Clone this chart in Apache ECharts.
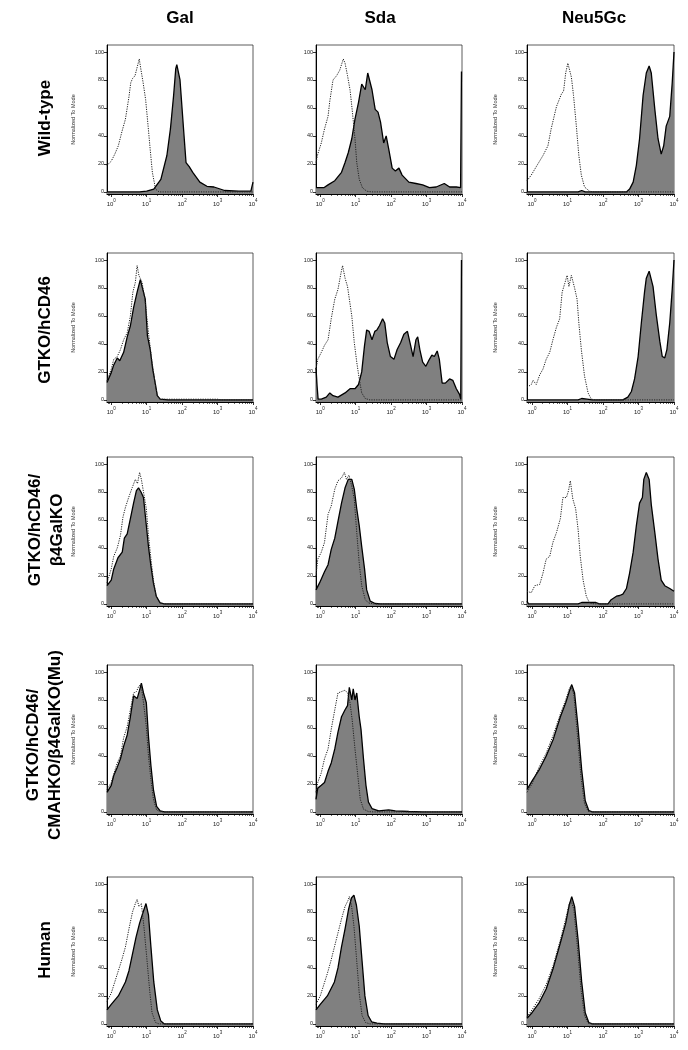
<!DOCTYPE html>
<html>
<head>
<meta charset="utf-8">
<script src="https://cdn.jsdelivr.net/npm/echarts@6/dist/echarts.min.js"></script>
<style>
html,body{margin:0;padding:0;background:#fff;}
#c{width:688px;height:1050px;}
</style>
</head>
<body>
<div id="c"></div>
<script>
// ---------- labels / ticks ----------
const columnTitles = ['Gal', 'Sda', 'Neu5Gc'];
const rowLabels = ['Wild-type', 'GTKO/hCD46', 'GTKO/hCD46/\nβ4GalKO', 'GTKO/hCD46/\nCMAHKO/β4GalKO(Mu)', 'Human'];
const yTickValues = [0, 20, 40, 60, 80, 100];
const xDecadeExponents = [0, 1, 2, 3, 4];
const yAxisTitle = 'Normalized To Mode';

// ---------- data: [log10(fluorescence), % of mode] ----------
// Row 1: Wild-type
const galWT_ctrl = [[-0.12,19],[0,22],[0.1,27],[0.2,33],[0.3,43],[0.4,52],[0.45,60],[0.5,68],[0.55,78],[0.6,81],[0.67,83],[0.72,88],[0.79,95],[0.84,87],[0.9,78],[0.97,66],[1.04,47],[1.1,30],[1.16,14],[1.25,2],[1.35,0],[4,0]];
const galWT_samp = [[-0.12,0],[0.8,0],[1.0,0.5],[1.2,2],[1.4,9],[1.57,26],[1.67,45],[1.76,69],[1.82,88],[1.85,91],[1.9,91],[1.94,80],[2.04,45],[2.11,21],[2.2,18],[2.3,14],[2.5,7],[2.7,4],[2.9,3.5],[3.2,1],[3.6,0.5],[3.94,0.5],[4.0,7]];
const sdaWT_ctrl = [[-0.12,21],[-0.07,27],[0.03,35],[0.12,45],[0.22,54],[0.27,65],[0.36,80],[0.46,83],[0.55,87],[0.65,95],[0.7,92],[0.77,83],[0.84,73],[0.9,59],[0.98,38],[1.03,21],[1.1,9],[1.19,3],[1.31,0.5],[1.45,0],[4,0]];
const sdaWT_samp = [[-0.12,3],[0.1,3],[0.22,5],[0.41,8],[0.6,14],[0.7,21],[0.79,28],[0.89,38],[0.98,52],[1.08,64],[1.17,77],[1.22,78],[1.27,73],[1.34,85],[1.38,84],[1.46,73],[1.55,59],[1.63,57],[1.7,50],[1.79,35],[1.86,40],[1.93,31],[2.03,17],[2.12,15],[2.22,17],[2.31,12],[2.5,7],[2.7,6],[2.89,5],[3.08,3],[3.27,3.5],[3.5,6],[3.65,3.5],[3.84,3.5],[3.96,3],[3.985,86],[4.0,86]];
const neuWT_ctrl = [[-0.14,8],[-0.02,12],[0.12,18],[0.31,26],[0.45,33],[0.54,45],[0.69,61],[0.83,70],[0.89,72],[0.95,85],[1.01,92],[1.06,91],[1.11,82],[1.17,69],[1.25,47],[1.32,26],[1.39,12],[1.48,3.5],[1.62,0.5],[1.75,0],[4,0]];
const neuWT_samp = [[-0.14,0],[1.3,0],[1.4,1],[1.5,0],[2.66,0],[2.75,2],[2.85,7],[2.94,19],[3.03,38],[3.13,69],[3.22,85],[3.3,90],[3.36,85],[3.46,59],[3.55,38],[3.64,27],[3.71,33],[3.78,47],[3.88,54],[3.95,78],[4.0,100]];
// Row 2: GTKO/hCD46
const galKO_ctrl = [[-0.12,13.5],[0,22],[0.07,29],[0.17,31],[0.26,36],[0.35,43],[0.45,48],[0.54,60],[0.61,77],[0.68,84],[0.73,96],[0.78,89],[0.87,84],[0.96,70],[1.05,48],[1.14,29],[1.24,12],[1.3,3],[1.38,0.5],[3.0,0.5],[3.1,0],[4,0]];
const galKO_samp = [[-0.12,12.4],[0,19.5],[0.07,25],[0.17,30],[0.24,28],[0.35,34],[0.45,45],[0.54,53],[0.63,66],[0.73,77],[0.82,86],[0.87,81],[0.96,72],[1.02,46],[1.1,36],[1.17,22],[1.24,12],[1.3,3],[1.38,0.5],[1.6,0],[4,0]];
const sdaKO_ctrl = [[-0.12,22],[-0.07,29],[0.03,34],[0.12,39],[0.22,43],[0.31,58],[0.41,72],[0.5,79],[0.58,90],[0.63,96],[0.7,87],[0.77,81],[0.89,60],[0.96,41],[1.03,27],[1.1,15],[1.17,5],[1.27,1],[1.4,0],[4,0]];
const sdaKO_samp = [[-0.12,23],[-0.09,10],[-0.06,0.5],[0.03,0.5],[0.17,2],[0.27,5],[0.36,3],[0.5,2],[0.7,5],[0.84,8],[0.98,8],[1.08,11],[1.17,20],[1.25,39],[1.31,50],[1.38,49],[1.46,43],[1.54,49],[1.6,50],[1.67,53],[1.76,58],[1.82,55],[1.89,41],[1.98,31],[2.08,29],[2.17,36],[2.27,41],[2.36,47],[2.46,49],[2.55,39],[2.62,31],[2.7,43],[2.75,45],[2.81,36],[2.89,27],[2.98,24],[3.08,29],[3.15,32],[3.22,31],[3.3,35],[3.36,29],[3.44,12],[3.53,12],[3.65,15],[3.74,14],[3.84,8],[3.93,4],[3.965,0.5],[3.985,100],[4.0,100]];
const neuKO_ctrl = [[-0.14,9],[-0.02,11],[0.03,14],[0.12,11],[0.22,18],[0.31,22],[0.4,29],[0.5,34],[0.59,43],[0.69,52],[0.78,58],[0.85,77],[0.92,83],[0.99,89],[1.04,81],[1.11,89],[1.15,90],[1.2,80],[1.27,72],[1.32,55],[1.39,36],[1.48,17],[1.58,5],[1.67,0.5],[1.8,0],[4,0]];
const neuKO_samp = [[-0.14,0],[1.3,0],[1.4,1],[1.55,0.5],[1.7,0],[2.56,0],[2.7,2],[2.8,6],[2.89,15],[2.99,31],[3.08,55],[3.17,77],[3.22,87],[3.3,92],[3.33,93],[3.41,81],[3.5,61],[3.6,42],[3.67,31],[3.74,30],[3.8,36],[3.88,55],[3.95,79],[4.0,100]];
// Row 3: GTKO/hCD46/β4GalKO
const galB4_ctrl = [[-0.12,15],[0,25],[0.07,34],[0.17,40],[0.26,49],[0.33,62],[0.4,69],[0.49,76],[0.59,83],[0.68,89],[0.74,86],[0.8,94],[0.85,89],[0.91,80],[0.99,68],[1.05,49],[1.12,32],[1.19,17],[1.27,5.5],[1.38,0.7],[1.5,0],[4,0]];
const galB4_samp = [[-0.12,13],[0,17],[0.07,25],[0.19,33],[0.31,37],[0.37,47],[0.45,50],[0.54,61],[0.63,72],[0.71,81],[0.77,83],[0.84,80],[0.91,76],[0.99,56],[1.05,41],[1.12,27],[1.19,15],[1.27,5.5],[1.38,0.7],[1.5,0],[4,0]];
const sdaB4_ctrl = [[-0.12,20],[-0.07,32],[0.03,37],[0.12,44],[0.22,64],[0.31,70],[0.41,82],[0.5,88],[0.6,90],[0.68,94],[0.74,89],[0.81,92],[0.89,84],[0.96,75],[1.03,51],[1.1,29],[1.17,13],[1.27,3],[1.36,0.7],[1.5,0],[4,0]];
const sdaB4_samp = [[-0.12,10],[-0.02,15],[0.12,23],[0.22,28],[0.31,39],[0.41,47],[0.5,59],[0.6,72],[0.7,83],[0.79,89],[0.84,90],[0.89,89],[0.96,82],[1.03,68],[1.1,56],[1.17,41],[1.25,25],[1.31,10],[1.41,2],[1.55,0.3],[1.7,0],[4,0]];
const neuB4_ctrl = [[-0.14,9],[-0.02,8],[0.08,13],[0.22,14],[0.31,22],[0.4,32],[0.5,34],[0.59,44],[0.69,51],[0.8,61],[0.87,76],[0.97,76],[1.03,81],[1.08,88],[1.15,75],[1.23,68],[1.3,53],[1.36,34],[1.44,17],[1.53,5.5],[1.62,0.7],[1.75,0],[4,0]];
const neuB4_samp = [[-0.14,2],[-0.1,0],[1.3,0],[1.4,1],[1.8,1],[1.9,0],[2.14,0],[2.23,3],[2.38,5.5],[2.47,6],[2.56,7],[2.66,11],[2.75,22],[2.85,37],[2.94,56],[3.03,72],[3.11,76],[3.15,89],[3.22,94],[3.3,89],[3.36,71],[3.46,51],[3.55,32],[3.64,17],[3.74,13],[3.88,11],[4.0,9]];
// Row 4: GTKO/hCD46/CMAHKO/β4GalKO(Mu)
const galMu_ctrl = [[-0.12,16],[0,21],[0.07,27],[0.17,35],[0.26,40],[0.35,53],[0.45,61],[0.54,73],[0.63,85],[0.71,86],[0.78,90],[0.84,91],[0.91,78],[0.99,61],[1.05,40],[1.12,23],[1.19,9],[1.28,1.4],[1.38,0.2],[1.5,0],[4,0]];
const galMu_samp = [[-0.12,14],[0,19],[0.07,26],[0.17,32],[0.26,38],[0.35,47],[0.45,55],[0.54,68],[0.63,83],[0.73,81],[0.8,87],[0.85,92],[0.91,85],[0.99,78],[1.05,54],[1.12,33],[1.19,16],[1.28,4],[1.38,0.7],[1.5,0],[4,0]];
const sdaMu_ctrl = [[-0.12,14],[-0.07,21],[0.03,28],[0.12,38],[0.22,45],[0.31,59],[0.41,73],[0.5,85],[0.6,86],[0.7,87],[0.77,85],[0.84,78],[0.9,66],[0.98,45],[1.06,26],[1.13,9],[1.22,2],[1.36,0.2],[1.5,0],[4,0]];
const sdaMu_samp = [[-0.12,9],[-0.07,17],[0.03,19],[0.12,21],[0.22,29],[0.31,35],[0.41,45],[0.5,57],[0.6,68],[0.7,73],[0.77,76],[0.82,89],[0.89,80],[0.93,88],[0.98,80],[1.03,85],[1.1,68],[1.15,59],[1.22,38],[1.29,19],[1.36,7],[1.46,2.4],[1.65,0.7],[1.93,1.4],[2.12,0.7],[2.5,0.3],[2.89,0],[4,0]];
const neuMu_ctrl = [[-0.14,14],[0,20],[0.2,32],[0.4,42],[0.6,55],[0.8,70],[0.95,80],[1.05,88],[1.1,90],[1.18,84],[1.28,55],[1.38,25],[1.48,6],[1.58,0.5],[1.7,0],[4,0]];
const neuMu_samp = [[-0.14,16],[0,22],[0.2,30],[0.4,40],[0.6,52],[0.8,68],[0.95,78],[1.05,86],[1.12,91],[1.2,85],[1.3,60],[1.4,30],[1.5,8],[1.6,1],[1.7,0],[4,0]];
// Row 5: Human
const galHu_ctrl = [[-0.12,16],[0,22],[0.1,30],[0.2,38],[0.3,46],[0.4,55],[0.5,68],[0.6,80],[0.68,86],[0.73,89],[0.78,84],[0.85,86],[0.92,70],[1.0,48],[1.08,25],[1.15,8],[1.25,1],[1.35,0],[4,0]];
const galHu_samp = [[-0.12,10],[0,14],[0.2,20],[0.4,30],[0.5,38],[0.6,50],[0.7,62],[0.8,72],[0.9,80],[0.98,86],[1.05,78],[1.12,55],[1.2,30],[1.3,10],[1.4,2],[1.5,0],[4,0]];
const sdaHu_ctrl = [[-0.12,14],[0,20],[0.1,28],[0.2,36],[0.3,45],[0.4,55],[0.5,65],[0.6,75],[0.7,84],[0.78,88],[0.82,91],[0.88,85],[0.95,70],[1.02,48],[1.1,22],[1.18,6],[1.28,1],[1.4,0],[4,0]];
const sdaHu_samp = [[-0.12,10],[0,14],[0.2,20],[0.4,30],[0.5,40],[0.6,55],[0.7,68],[0.8,82],[0.88,90],[0.95,92],[1.02,85],[1.1,70],[1.18,45],[1.26,20],[1.35,6],[1.45,1.5],[1.6,0.5],[1.8,0],[4,0]];
const neuHu_ctrl = [[-0.14,5],[0,10],[0.2,18],[0.4,28],[0.6,42],[0.8,60],[0.95,75],[1.05,86],[1.1,88],[1.18,82],[1.28,55],[1.38,25],[1.48,6],[1.58,0.5],[1.7,0],[4,0]];
const neuHu_samp = [[-0.14,4],[0,8],[0.2,15],[0.4,25],[0.6,40],[0.8,58],[0.95,72],[1.05,85],[1.12,91],[1.2,84],[1.3,60],[1.4,30],[1.5,8],[1.6,1],[1.7,0],[4,0]];

const panelData = [
  [[galWT_ctrl, galWT_samp], [sdaWT_ctrl, sdaWT_samp], [neuWT_ctrl, neuWT_samp]],
  [[galKO_ctrl, galKO_samp], [sdaKO_ctrl, sdaKO_samp], [neuKO_ctrl, neuKO_samp]],
  [[galB4_ctrl, galB4_samp], [sdaB4_ctrl, sdaB4_samp], [neuB4_ctrl, neuB4_samp]],
  [[galMu_ctrl, galMu_samp], [sdaMu_ctrl, sdaMu_samp], [neuMu_ctrl, neuMu_samp]],
  [[galHu_ctrl, galHu_samp], [sdaHu_ctrl, sdaHu_samp], [neuHu_ctrl, neuHu_samp]]
];

// ---------- layout ----------
const colLeft = [107, 316, 527];
const colWidth = [146, 146, 147];
const rowTop = [45, 253, 457, 665, 877];
const plotHeight = 149;
const xMin = [-0.12, -0.12, -0.14];
const xMax = 4;
const yMin = -1.5, yMax = 105;
const FONT = '"Liberation Sans", Arial, Helvetica, sans-serif';

// minor tick positions (log scale)
const minorTicks = [];
for (let d = -1; d < 4; d++) {
  for (let k = 2; k <= 9; k++) {
    const v = d + Math.log10(k);
    if (v > -0.14 && v < 4) minorTicks.push(v);
  }
}

const grid = [], xAxis = [], yAxis = [], series = [];
let gi = 0;
for (let r = 0; r < 5; r++) {
  for (let c = 0; c < 3; c++) {
    grid.push({left: colLeft[c], top: rowTop[r], width: colWidth[c], height: plotHeight,
      show: true, borderColor: '#333', borderWidth: 0.8, backgroundColor: 'transparent'});
    xAxis.push({gridIndex: gi, type: 'value', position: 'bottom', min: xMin[c], max: xMax,
      axisLine: {show: true, onZero: false, lineStyle: {color: '#000', width: 1}},
      axisTick: {show: true, customValues: xDecadeExponents, length: 3, lineStyle: {color: '#000', width: 0.8}},
      axisLabel: {show: true, customValues: xDecadeExponents, margin: 4,
        formatter: v => '{b|10}{s|' + v + '}',
        rich: {b: {fontSize: 6, color: '#222', fontFamily: FONT, verticalAlign: 'bottom'},
               s: {fontSize: 4.5, color: '#222', fontFamily: FONT, verticalAlign: 'bottom', padding: [0, 0, 4, 0]}}},
      splitLine: {show: false}});
    xAxis.push({gridIndex: gi, type: 'value', position: 'bottom', offset: 0, min: xMin[c], max: xMax,
      axisLine: {show: false, onZero: false},
      axisTick: {show: true, customValues: minorTicks, length: 2, lineStyle: {color: '#000', width: 0.6}},
      axisLabel: {show: false}, splitLine: {show: false}});
    yAxis.push({gridIndex: gi, type: 'value', min: yMin, max: yMax,
      axisLine: {show: true, onZero: false, lineStyle: {color: '#000', width: 1}},
      axisTick: {show: true, customValues: yTickValues, length: 3, lineStyle: {color: '#000', width: 0.8}},
      axisLabel: {show: true, customValues: yTickValues, fontSize: 5.5, color: '#222', margin: 3, fontFamily: FONT},
      splitLine: {show: false},
      name: c === 1 ? '' : yAxisTitle, nameLocation: 'middle', nameGap: c === 0 ? 31 : 29,
      nameTextStyle: {fontSize: 5.5, color: '#333', fontFamily: FONT}});
    const [ctrl, samp] = panelData[r][c];
    series.push({type: 'line', xAxisIndex: 2 * gi, yAxisIndex: gi, data: samp,
      symbol: 'none', smooth: false, z: 2,
      lineStyle: {color: '#000', width: 1.3},
      areaStyle: {color: '#808080', opacity: 1, origin: 'start'}});
    series.push({type: 'line', xAxisIndex: 2 * gi, yAxisIndex: gi, data: ctrl,
      symbol: 'none', smooth: false, z: 3,
      lineStyle: {color: '#222', width: 1, type: [1.2, 1.2]}});
    gi++;
  }
}

// ---------- titles ----------
const graphic = [];
const titleX = [180, 380, 594];
columnTitles.forEach((t, i) => graphic.push({type: 'text', x: titleX[i], y: 18,
  style: {text: t, font: 'bold 17px ' + FONT, fill: '#000', textAlign: 'center', textVerticalAlign: 'middle'}}));
const rowLabelY = [118, 330, 530, 745, 950];
const rowLabelX = [45, 45, 46, 44, 45];
rowLabels.forEach((t, i) => graphic.push({type: 'text', x: rowLabelX[i], y: rowLabelY[i], rotation: Math.PI / 2,
  style: {text: t, font: 'bold 17px ' + FONT, fill: '#000', textAlign: 'center', textVerticalAlign: 'middle', lineHeight: 22}}));

const chart = echarts.init(document.getElementById('c'), null, {renderer: 'canvas'});
chart.setOption({animation: false, backgroundColor: '#fff', grid, xAxis, yAxis, series, graphic});
</script>
</body>
</html>
